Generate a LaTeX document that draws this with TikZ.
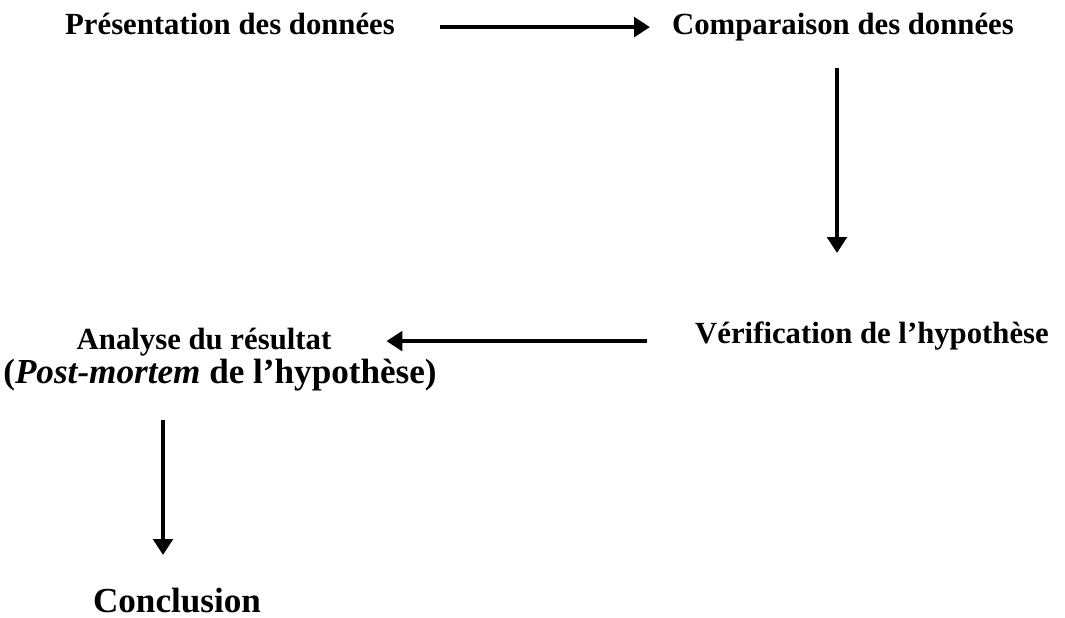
\documentclass[tikz,border=0pt]{standalone}
\usepackage{fontspec}
\setmainfont{Liberation Serif}
\usetikzlibrary{positioning, arrows.meta}

\tikzset{
    step label/.style={font=\bfseries\fontsize{17.5}{21}\selectfont, anchor=base,
        text height=13pt, text depth=4pt},
    flow/.style={line width=2.6pt, -{Triangle[length=9pt,width=11pt]}}
}

\begin{document}
\begin{tikzpicture}[x=0.02cm, y=-0.02cm]
    \useasboundingbox (0,0) rectangle (1065,618);

    % Top row
    \node[step label] (pres) at (230, 35) {Présentation des données};
    \node[step label] (comp) at (843, 35) {Comparaison des données};

    % Middle row
    \node[step label] (verif) at (872, 343) {Vérification de l'hypothèse};
    \node[step label] (anal) at (204, 349) {Analyse du résultat};
    \node[step label, font=\bfseries\fontsize{20}{24}\selectfont] (pm) at (220, 383) {(\textit{Post-mortem} de l'hypothèse)};

    % Bottom
    \node[step label, font=\bfseries\fontsize{20}{24}\selectfont] (concl) at (177, 612) {Conclusion};

    % Arrows
    \coordinate (dn1) at (837, 0);
    \coordinate (dn2) at (163, 0);
    \draw[flow, shorten <=0.78cm, shorten >=0.32cm] (pres.east) -- (comp.west);
    \draw[flow, shorten <=0.4cm, shorten >=1.22cm] (comp.south -| dn1) -- (verif.north -| dn1);
    \draw[flow, shorten <=0.85cm, shorten >=0.98cm] (anal.east -| verif.west) -- (anal.east);
    \draw[flow, shorten <=0.48cm, shorten >=0.56cm] (pm.south -| dn2) -- (concl.north -| dn2);
\end{tikzpicture}
\end{document}
